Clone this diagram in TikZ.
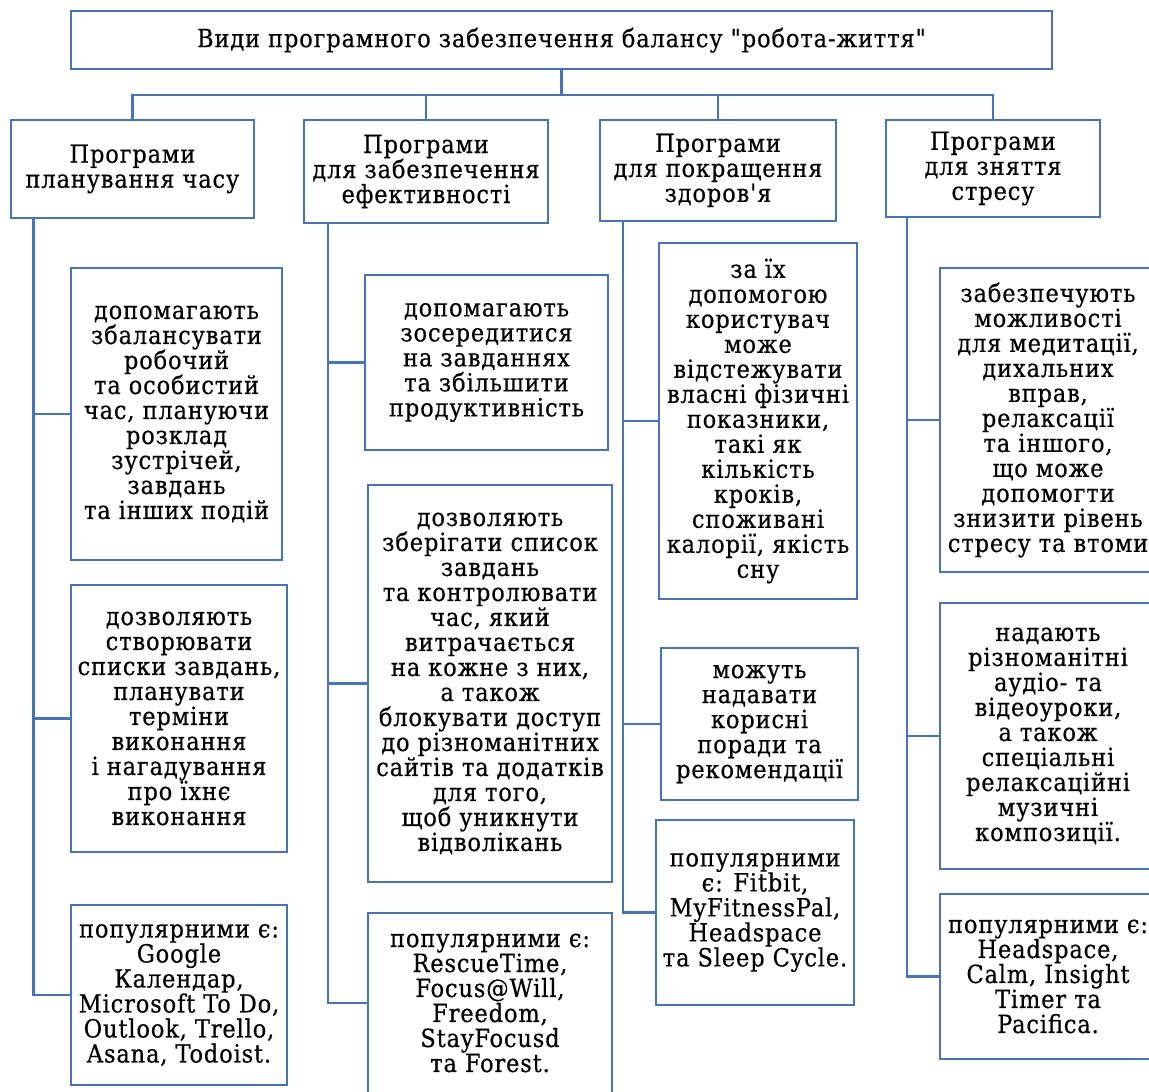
\documentclass[tikz,border=0pt]{standalone}
\usepackage{fontspec}
\setmainfont{DejaVu Serif Condensed}[Ligatures=TeXOff, LetterSpace=3.5, FakeBold=0.5]
\usetikzlibrary{positioning}
\definecolor{boxblue}{HTML}{4472C4}

\begin{document}
\begin{tikzpicture}[
  x=1pt, y=-1pt,
  font=\fontsize{25}{25}\selectfont,
  titlebox/.style={draw=boxblue, line width=2.5pt, fill=white, inner sep=0pt, align=center, minimum width=981pt, minimum height=58pt},
  groupbox/.style={draw=boxblue, line width=2.5pt, fill=white, inner sep=0pt, align=center},
  itembox/.style={draw=boxblue, line width=2.5pt, fill=white, inner sep=0pt, align=center},
  linkline/.style={draw=boxblue, line width=2.5pt}
]
\useasboundingbox (0,0) rectangle (1149,1092);
\clip (0,0) rectangle (1149,1092);

\node[titlebox] (kinds) at (561.4,40.2) {Види програмного забезпечення балансу "робота-життя"};

\node[groupbox, minimum width=243pt, minimum height=98pt] (planning) at (132.4,168.9) {Програми\\планування часу};
\node[groupbox, minimum width=244pt, minimum height=103pt] (focus) at (426,171.5) {Програми\\для забезпечення\\ефективності};
\node[groupbox, minimum width=236pt, minimum height=101pt] (health) at (718,170.4) {Програми\\для покращення\\здоров'я};
\node[groupbox, minimum width=214pt, minimum height=97pt] (relax) at (993,168.5) {Програми\\для зняття\\стресу};

\coordinate (bus) at (0,95);
\draw[linkline] (kinds.south) -- (kinds.south |- bus);
\draw[linkline] (planning.north) -- (planning.north |- bus) -- (relax.north |- bus) -- (relax.north);
\draw[linkline] (focus.north) -- (focus.north |- bus);
\draw[linkline] (health.north) -- (health.north |- bus);

\node[itembox, minimum width=211pt, minimum height=292pt] (planninghelp) at (176.5,414) {допомагають\\збалансувати\\робочий\\та особистий\\час, плануючи\\розклад\\зустрічей,\\завдань\\та інших подій};
\node[itembox, minimum width=216pt, minimum height=267pt] (planninglists) at (179,718.5) {дозволяють\\створювати\\списки завдань,\\планувати\\терміни\\виконання\\і нагадування\\про їхнє\\виконання};
\node[itembox, minimum width=216pt, minimum height=180pt] (planningapps) at (179,995) {популярними є:\\Google\\Календар,\\Microsoft To Do,\\Outlook, Trello,\\Asana, Todoist.};
\draw[linkline] ([xshift=24pt]planning.south west) |- (planninghelp.west);
\draw[linkline] ([xshift=24pt]planning.south west) |- (planninglists.west);
\draw[linkline] ([xshift=24pt]planning.south west) |- (planningapps.west);

\node[itembox, minimum width=243pt, minimum height=175pt] (focushelp) at (486.5,362.5) {допомагають\\зосередитися\\на завданнях\\та збільшити\\продуктивність};
\node[itembox, minimum width=244pt, minimum height=397pt] (focuslists) at (490,683.5) {дозволяють\\зберігати список\\завдань\\та контролювати\\час, який\\витрачається\\на кожне з них,\\а також\\блокувати доступ\\до різноманітних\\сайтів та додатків\\для того,\\щоб уникнути\\відволікань};
\node[itembox, minimum width=244pt, minimum height=180pt] (focusapps) at (490,1003) {популярними є:\\RescueTime,\\Focus@Will,\\Freedom,\\StayFocusd\\та Forest.};
\draw[linkline] ([xshift=25pt]focus.south west) |- (focushelp.west);
\draw[linkline] ([xshift=25pt]focus.south west) |- (focuslists.west);
\draw[linkline] ([xshift=25pt]focus.south west) |- (focusapps.west);

\node[itembox, minimum width=198pt, minimum height=356pt] (healthtrack) at (758,421) {за їх\\допомогою\\користувач\\може\\відстежувати\\власні фізичні\\показники,\\такі як\\кількість\\кроків,\\споживані\\калорії, якість\\сну};
\node[itembox, minimum width=197pt, minimum height=152pt] (healthtips) at (759.5,724) {можуть\\надавати\\корисні\\поради та\\рекомендації};
\node[itembox, minimum width=198pt, minimum height=185pt] (healthapps) at (755,912.5) {популярними\\є: Fitbit,\\MyFitnessPal,\\Headspace\\та Sleep Cycle.};
\draw[linkline] ([xshift=24pt]health.south west) |- (healthtrack.west);
\draw[linkline] ([xshift=24pt]health.south west) |- (healthtips.west);
\draw[linkline] ([xshift=24pt]health.south west) |- (healthapps.west);

\node[itembox, minimum width=216pt, minimum height=304pt] (relaxmeditate) at (1048,420) {забезпечують\\можливості\\для медитації,\\дихальних\\вправ,\\релаксації\\та іншого,\\що може\\допомогти\\знизити рівень\\стресу та втоми};
\node[itembox, minimum width=216pt, minimum height=266pt] (relaxlessons) at (1048,736) {надають\\різноманітні\\аудіо- та\\відеоуроки,\\а також\\спеціальні\\релаксаційні\\музичні\\композиції.};
\node[itembox, minimum width=216pt, minimum height=165pt] (relaxapps) at (1048,976.5) {популярними є:\\Headspace,\\Calm, Insight\\Timer та\\Pacifica.};
\draw[linkline] ([xshift=22pt]relax.south west) |- (relaxmeditate.west);
\draw[linkline] ([xshift=22pt]relax.south west) |- (relaxlessons.west);
\draw[linkline] ([xshift=22pt]relax.south west) |- (relaxapps.west);
\end{tikzpicture}
\end{document}
